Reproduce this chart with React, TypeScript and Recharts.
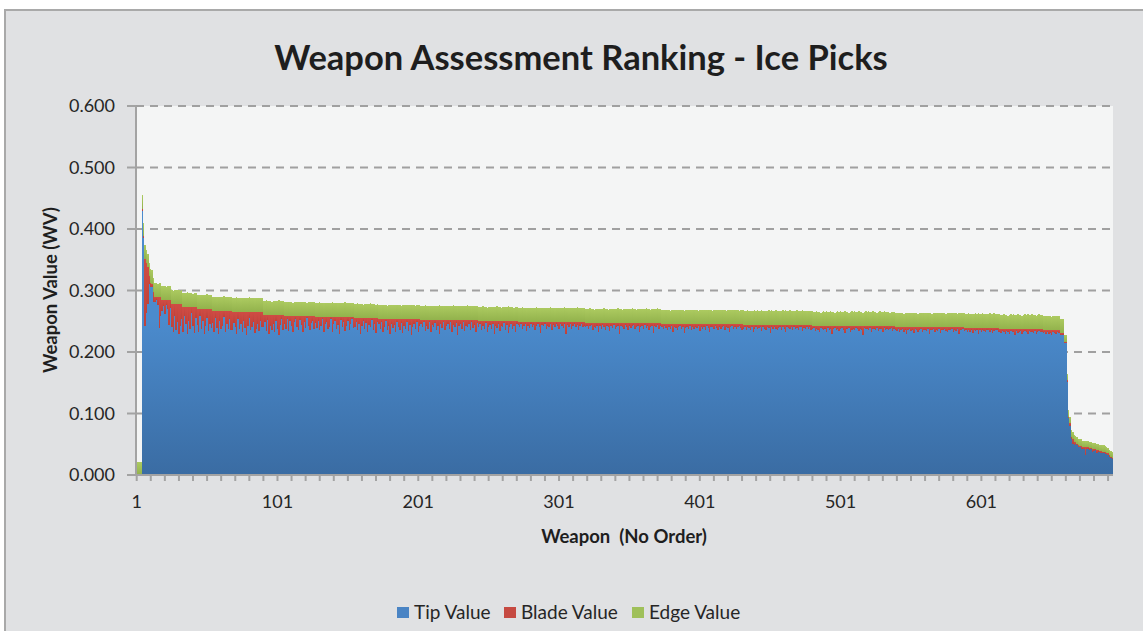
import React from 'react';
import { BarChart, Bar, XAxis, YAxis, CartesianGrid } from 'recharts';

// values in thousandths of WV, one entry per weapon (1..694)
const TIP_VALUES = `
0 0 0 0
430 385 242 264 278 311 305 305 281
281 285 277 239 259
266 274 262 276 270 244 272
240 233 258 236 248 230 243 253
233 258 245 229 251 237 263 243 231 255
244 232 258 237 250 230 242 255 234 246 239
247 233 255 239 229 251 237 243 257 232 245 238 253 235
235 247 240 230 253 237 245 232 250 239 227 243 255 235 241 249 231 238 246 234 251 240
240 248 234 252 230 242 236 246 232 250 238 228 244 254 235
246 238 253 234 250 242 232 248 254 240 236 252 244 233 249 239 255 243 235 247 251 237
247 239 251 235 243 253 232 245 249 237 241 254 233 246 250 238 244 230 252 240 248 234 242 251 236 245 253 239
241 249 235 246 230 243 251 238 247 233 244 240 252 236 245 231 248
245 237 248 232 241 250 235 243 229 246 239 244 233 249 240 236 247 231 242 238 248 234 244 228 241 246 237 249 233 243
246 240 248 234 243 238 249 232 244 241 247 236 242 230 245 239 248 235 243 246 237 249 233 244 240 247 228 242 245 238 248 234 243 241 246 236 249 239 244 232 247
240 246 235 243 238 247 232 241 244 237 245 230 242 239 246 234 243 240 247 236 244 231 241 245 238 242 233 246
244 240 246 237 243 245 234 242 239 246 241 244 236 243 245 240 231 244 242 246 238 243 241 245 235 244 240 246 242 237 245 243 239 246 229 244 241 245 238 243 246 240 244 236 242 245 241 243
240 243 237 242 244 235 241 239 243 232 242 238 244 240 236 243 241 234 242 239 244 237 241 243 229 242 240 238 244 241 235 243 239 242 244 237 240 243 233 241 242 238 244 239 243 236 241 242 231 243 240 244 238 242
240 237 242 239 235 241 238 242 233 240 239 236 241 242 237 240 231 239 241 238 242 235 240 237 241 239 242 234 240 238 241 236 242 239 232 241 240 237 242 239 235 241 238 240 242 236 241 239 233 240 242 238 241 237 240 242 239 235
238 240 235 241 239 236 240 233 238 241 237 239 240 234 241 238 236 240 239 231 241 237 240 238 235 239 241 236 240 238 232 241 239 237 240 235 241 238 239 236 240 241 234 239 238 240 237 241 236
237 239 234 238 236 232 239 237 235 238 233 239 236 238 230 237 239 235 238 234 237 239 236 231 238 237 239 233 236 238 235 239 237 234 238 236 228 239 237 238 235 239 233 237 238 236 239 234 238 237 232 239 236 238 235 237 239 234 238
236 234 237 232 235 237 233 236 230 235 237 234 236 231 237 235 233 236 237 232 235 236 234 237 229 236 235 237 233 236 234 237 231 235 236 237 234 232 236 235 237 233 236 234 237 230 236 235 237
234 236 232 235 233 236 231 235 234 236 230 235 233 236 234 232 236 235 233 236 231 234 235 236 233
233 231 234 232 229 234 233 230 234 232 233 228 234 231 233 234 230 232 234 233 229 234 232 233 231 234 230 233 234 232 233
231 232 229 232 230 231 228 232 231 230 232 231
228 227 228
214 214 152 92 80 59 51 48 50 49 45 45 43 43 42 33 42 43 41 42 38 39 40 36 38 37 35 35 36 34 34 32 30 28 26
`;

const BLADE_VALUES = `
0 0 0 0
3 3 110 80 60 12 8 6 17
8 4 12 50 30
18 10 22 8 14 40 12
38 45 20 42 30 48 35 25
40 15 28 44 22 36 10 30 42 18
26 38 12 33 20 40 28 15 36 24 31
20 34 12 28 38 16 30 24 10 35 22 29 14 32
30 18 25 35 12 28 20 33 15 26 38 22 10 30 24 16 34 27 19 31 14 25
20 12 26 8 30 18 24 14 28 10 22 32 16 6 25
12 20 5 24 8 16 26 10 4 18 22 6 14 25 9 19 3 15 23 11 7 21
10 18 6 22 14 4 25 12 8 20 16 3 24 11 7 19 13 27 5 17 9 23 15 6 21 12 4 18
14 6 20 9 25 12 4 17 8 22 11 15 3 19 10 24 7
8 16 5 21 12 3 18 10 24 7 14 9 20 4 13 17 6 22 11 15 5 19 9 25 12 7 16 4 20 10
6 12 4 18 9 14 3 20 8 11 5 16 10 22 7 13 4 17 9 6 15 3 19 8 12 5 24 10 7 14 4 18 9 11 6 16 3 13 8 20 5
10 4 15 7 12 3 18 9 6 13 5 20 8 11 4 16 7 10 3 14 6 19 9 5 12 8 17 4
5 9 3 12 6 4 15 7 10 3 8 5 13 6 4 9 18 5 7 3 11 6 8 4 14 5 9 3 7 12 4 6 10 3 20 5 8 4 11 6 3 9 5 13 7 4 8 6
7 4 10 5 3 12 6 8 4 15 5 9 3 7 11 4 6 13 5 8 3 10 6 4 18 5 7 9 3 6 12 4 8 5 3 10 7 4 14 6 5 9 3 8 4 11 6 5 16 4 7 3 9 5
5 8 3 6 10 4 7 3 12 5 6 9 4 3 8 5 14 6 4 7 3 10 5 8 4 6 3 11 5 7 4 9 3 6 13 4 5 8 3 6 10 4 7 5 3 9 4 6 12 5 3 7 4 8 5 3 6 10
6 4 9 3 5 8 4 11 6 3 7 5 4 10 3 6 8 4 5 13 3 7 4 6 9 5 3 8 4 6 12 3 5 7 4 9 3 6 5 8 4 3 10 5 6 4 7 3 8
5 3 8 4 6 10 3 5 7 4 9 3 6 4 12 5 3 7 4 8 5 3 6 11 4 5 3 9 6 4 7 3 5 8 4 6 14 3 5 4 7 3 9 5 4 6 3 8 4 5 10 3 6 4 7 5 3 8 4
4 6 3 8 5 3 7 4 10 5 3 6 4 9 3 5 7 4 3 8 5 4 6 3 11 4 5 3 7 4 6 3 9 5 4 3 6 8 4 5 3 7 4 6 3 10 4 5 3
5 3 7 4 6 3 8 4 5 3 9 4 6 3 5 7 3 4 6 3 8 5 4 3 6
4 6 3 5 8 3 4 7 3 5 4 9 3 6 4 3 7 5 3 4 8 3 5 4 6 3 7 4 3 5 4
4 3 6 3 5 4 7 3 4 5 3 4
3 4 3
3 3 2 2 4 3 8 6 3 2 3 2 4 2 3 12 3 2 3 2 4 3 2 5 3 2 4 3 2 3 2 3 2 2 2
`;

const EDGE_VALUES = `
21 21 21 21
22 22 22 22 22 22 22 22 22
23 23 22 23 23
23 23 23 22 23 23 23
23 22 23 23 23 23 22 23
23 23 23 24 23 23 23 22 23 23
23 23 22 23 23 23 23 24 23 23 23
23 23 23 22 23 23 23 23 24 23 23 23 22 23
23 23 23 24 23 23 22 23 23 23 23 23 24 23 23 23 22 23 23 23 23 23
23 23 24 23 23 23 22 23 23 23 23 24 23 23 23
23 23 23 24 23 23 22 23 23 23 23 23 24 23 23 23 22 23 23 23 23 23
23 23 23 24 23 23 22 23 23 23 23 23 24 23 23 23 22 23 23 23 23 24 23 23 23 23 22 23
23 23 24 23 23 23 22 23 23 23 23 24 23 23 23 22 23
23 23 23 24 23 23 22 23 23 23 23 23 23 24 23 23 22 23 23 23 23 23 23 24 23 23 22 23 23 23
23 23 23 24 23 23 22 23 23 23 23 23 23 24 23 23 22 23 23 23 23 23 23 24 23 23 22 23 23 23 23 23 23 24 23 23 22 23 23 23 23
23 23 23 24 23 23 22 23 23 23 23 23 23 24 23 23 22 23 23 23 23 24 23 23 23 22 23 23
23 23 23 24 23 23 22 23 23 23 23 23 23 24 23 23 22 23 23 23 23 23 23 24 23 23 22 23 23 23 23 23 23 24 23 23 22 23 23 23 23 23 24 23 23 23 22 23
23 23 23 24 23 23 22 23 23 23 23 23 23 24 23 23 22 23 23 23 23 23 23 24 23 23 22 23 23 23 23 23 23 24 23 23 22 23 23 23 23 23 23 24 23 23 22 23 23 23 23 24 23 23
23 23 23 24 23 23 22 23 23 23 23 23 23 24 23 23 22 23 23 23 23 23 23 24 23 23 22 23 23 23 23 23 23 24 23 23 22 23 23 23 23 23 23 24 23 23 22 23 23 23 23 23 24 23 23 22 23 23
24 23 23 24 23 23 22 23 24 23 24 23 23 24 23 23 22 23 24 23 24 23 23 24 23 23 22 23 24 23 24 23 23 24 23 23 22 23 24 23 23 23 24 23 23 22 23 23 23
24 23 23 24 23 23 22 23 24 23 24 23 23 24 23 23 22 23 24 23 24 23 23 24 23 23 22 23 24 23 24 23 23 24 23 23 22 23 24 23 24 23 23 24 23 23 22 23 24 23 23 24 23 23 23 22 23 23 23
24 23 23 24 23 23 22 23 24 23 24 23 23 24 23 23 22 23 24 23 24 23 23 24 23 23 22 23 24 23 24 23 23 24 23 23 22 23 24 23 24 23 23 23 22 23 23 24 23
24 23 23 24 23 23 22 23 24 23 24 23 23 24 23 23 22 23 24 23 23 24 23 23 22
24 23 23 24 23 23 22 23 24 23 24 23 23 24 23 23 22 23 24 23 24 23 23 24 23 23 22 23 24 23 23
23 23 24 23 23 23 22 23 23 23 24 23
23 23 23
11 11 10 11 11 11 11 11 11 11 11 11 11 11 11 10 10 10 10 10 10 10 10 10 10 10 10 10 10 10 9 9 9 9 9
`;

const Y_TICKS = [0, 0.1, 0.2, 0.3, 0.4, 0.5, 0.6];
const X_LABELS = [1, 101, 201, 301, 401, 501, 601];

const SERIES = [
  { key: 'tip', name: 'Tip Value', fill: 'url(#tipFill)', swatch: '#4a84c4' },
  { key: 'blade', name: 'Blade Value', fill: 'url(#bladeFill)', swatch: '#c64a42' },
  { key: 'edge', name: 'Edge Value', fill: 'url(#edgeFill)', swatch: '#9fc05a' },
];

const parse = (s: string) => s.trim().split(/\s+/).map((v) => Number(v) / 1000);
const tips = parse(TIP_VALUES);
const blades = parse(BLADE_VALUES);
const edges = parse(EDGE_VALUES);

const data = tips.map((tip, i) => ({
  weapon: i + 1,
  tip,
  blade: blades[i],
  edge: edges[i],
}));

const FONT = 'Lato, "Open Sans", sans-serif';
const axisGray = '#a3a3a3';

const CHART_W = 1143;
const MARGIN = { top: 106, right: 30, bottom: 126, left: 0 };
const Y_AXIS_W = 136;
// recharts floors bar widths to whole pixels, which leaves gaps; stretch each bar to the full band
const BAND = (CHART_W - MARGIN.right - MARGIN.left - Y_AXIS_W) / data.length;

const FullBand = (props: any) => {
  const { x, y, height, fill } = props;
  if (!height || height <= 0) return null;
  return <rect x={x} y={y} width={BAND} height={height} fill={fill} shapeRendering="crispEdges" />;
};

const legendPos = [
  { box: 397, text: 414 },
  { box: 504, text: 521 },
  { box: 632, text: 649 },
];

export default function App() {
  return (
    <div style={{ position: 'absolute', left: 0, top: 0, width: 1143, height: 631, background: '#fff', overflow: 'hidden', fontFamily: FONT }}>
      <div
        style={{
          position: 'absolute',
          left: 4,
          top: 9,
          width: 1160,
          height: 640,
          background: '#e0e1e3',
          borderLeft: '2px solid #a9a9a9',
          borderTop: '2px solid #a9a9a9',
        }}
      />
      <div
        style={{
          position: 'absolute',
          left: 81,
          top: 37,
          width: 1000,
          textAlign: 'center',
          fontSize: 34.5,
          fontWeight: 700,
          color: '#1e1e1e',
          lineHeight: '40px',
        }}
      >
        Weapon Assessment Ranking - Ice Picks
      </div>
      <div style={{ position: 'absolute', left: 0, top: 0 }}>
        <BarChart width={CHART_W} height={631} data={data} margin={MARGIN} barCategoryGap={0} barGap={0}>
          <defs>
            <linearGradient id="tipFill" gradientUnits="userSpaceOnUse" x1="0" y1="320" x2="0" y2="475">
              <stop offset="0" stopColor="#4b8bcd" />
              <stop offset="1" stopColor="#3a6ca3" />
            </linearGradient>
            <linearGradient id="bladeFill" x1="0" y1="0" x2="0" y2="1">
              <stop offset="0" stopColor="#cf4c44" />
              <stop offset="1" stopColor="#bd423c" />
            </linearGradient>
            <linearGradient id="edgeFill" x1="0" y1="0" x2="0" y2="1">
              <stop offset="0" stopColor="#acca60" />
              <stop offset="1" stopColor="#92b24c" />
            </linearGradient>
          </defs>
          <CartesianGrid
            vertical={false}
            stroke="#a0a0a0"
            strokeWidth={2}
            strokeDasharray="8 6"
            fill="#f4f5f5"
            fillOpacity={1}
          />
          <XAxis
            dataKey="weapon"
            interval={9}
            tickFormatter={(v) => (X_LABELS.includes(v) ? String(v) : '')}
            axisLine={{ stroke: axisGray, strokeWidth: 2 }}
            tickLine={{ stroke: axisGray, strokeWidth: 2 }}
            tickSize={6}
            tickMargin={14}
            tick={{ fontSize: 18, fill: '#262626', fontFamily: FONT }}
          />
          <YAxis
            type="number"
            domain={[0, 0.6]}
            ticks={Y_TICKS}
            width={Y_AXIS_W}
            tickFormatter={(v) => v.toFixed(3)}
            axisLine={{ stroke: axisGray, strokeWidth: 2 }}
            tickLine={{ stroke: axisGray, strokeWidth: 2 }}
            tickSize={9}
            tickMargin={12}
            tick={{ fontSize: 18, fill: '#262626', fontFamily: FONT }}
          />
          {SERIES.map((s) => (
            <Bar
              key={s.key}
              dataKey={s.key}
              name={s.name}
              stackId="wv"
              fill={s.fill}
              shape={FullBand}
              isAnimationActive={false}
            />
          ))}
        </BarChart>
      </div>
      <div
        style={{
          position: 'absolute',
          left: 50 - 150,
          top: 290 - 12,
          width: 300,
          height: 24,
          lineHeight: '24px',
          textAlign: 'center',
          transform: 'rotate(-90deg)',
          fontSize: 18.5,
          fontWeight: 700,
          color: '#1e1e1e',
        }}
      >
        Weapon Value (WV)
      </div>
      <div
        style={{
          position: 'absolute',
          left: 624 - 150,
          top: 536 - 12,
          width: 300,
          height: 24,
          lineHeight: '24px',
          textAlign: 'center',
          whiteSpace: 'pre',
          fontSize: 18.5,
          fontWeight: 700,
          color: '#1e1e1e',
        }}
      >
        {'Weapon  (No Order)'}
      </div>
      {SERIES.map((s, i) => (
        <React.Fragment key={s.key}>
          <div style={{ position: 'absolute', left: legendPos[i].box, top: 607, width: 12, height: 11, background: s.swatch }} />
          <div
            style={{
              position: 'absolute',
              left: legendPos[i].text,
              top: 600,
              lineHeight: '24px',
              fontSize: 19,
              color: '#262626',
              whiteSpace: 'nowrap',
            }}
          >
            {s.name}
          </div>
        </React.Fragment>
      ))}
    </div>
  );
}
